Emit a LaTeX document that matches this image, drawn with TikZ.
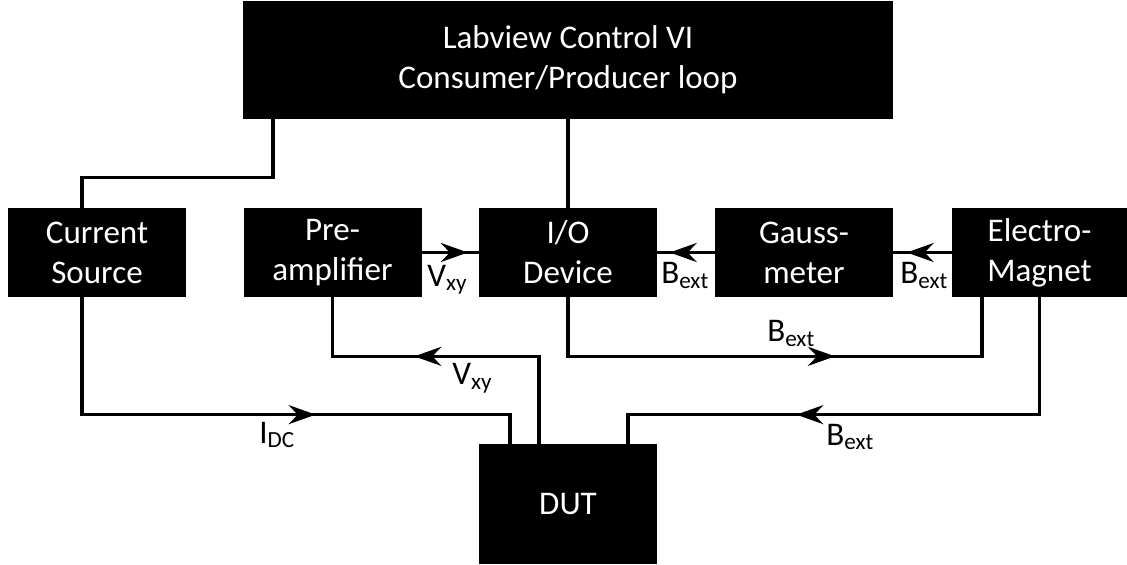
\documentclass[tikz,border=0pt]{standalone}
\usepackage{fontspec}
\setmainfont{Carlito}
\usetikzlibrary{positioning, arrows.meta, calc, decorations.markings}

\begin{document}
\begin{tikzpicture}[
        block/.style={fill=black, text=white, align=center, inner sep=0pt,
            minimum width=3.56cm, minimum height=1.78cm,
            font=\fontsize{18.8}{22.8}\selectfont},
        wire/.style={line width=1.9pt},
        flow/.style={postaction={decorate}, decoration={markings,
            mark=at position #1 with {\arrow{Stealth[length=0.54cm, width=0.38cm, inset=0.18cm]}}}},
        sig/.style={anchor=base west, inner sep=0pt,
            font=\fontsize{18.8}{22.8}\selectfont}
    ]

                \useasboundingbox (0, 0) rectangle (22.54, 11.28);

                \node[block, minimum width=13cm, minimum height=2.36cm]
                    (labview) at (11.36, 10.08) {Labview Control VI\\Consumer/Producer loop};

                \node[block] (current) at (1.94, 6.23) {Current\\Source};
                \node[block] (preamp) at (6.65, 6.23) {Pre-\\amplifier};
                \node[block] (io) at (11.36, 6.23) {I/O\\Device};
                \node[block] (gauss) at (16.08, 6.23) {Gauss-\\meter};
                \node[block, minimum width=3.5cm] (magnet) at (20.79, 6.23) {Electro-\\Magnet};

                \node[block, minimum height=2.4cm] (dut) at (11.36, 1.2) {DUT};

                \draw[wire] ([xshift=-5.9cm]labview.south)
                    |- ([xshift=-0.3cm, yshift=0.6cm]current.north)
                    -- ([xshift=-0.3cm]current.north);
                \draw[wire] (labview.south) -- (io.north);

                \draw[wire, flow=0.92cm] (preamp.east) -- (io.west);
                \draw[wire, flow=0.9cm] (gauss.west) -- (io.east);
                \draw[wire, flow=0.9cm] (magnet.west) -- (gauss.east);

                \draw[wire, flow=7.02cm] ([xshift=-0.3cm]current.south)
                    |- ([xshift=-1.16cm, yshift=0.58cm]dut.north)
                    -- ([xshift=-1.16cm]dut.north);
                \draw[wire, flow=4.24cm] ([xshift=-0.58cm]dut.north)
                    |- ([yshift=-1.18cm]preamp.south)
                    -- (preamp.south);
                \draw[wire, flow=6.52cm] (io.south)
                    |- ([xshift=-1.15cm, yshift=-1.18cm]magnet.south)
                    -- ([xshift=-1.15cm]magnet.south);
                \draw[wire, flow=7.21cm] (magnet.south)
                    |- ([xshift=1.2cm, yshift=0.58cm]dut.north)
                    -- ([xshift=1.2cm]dut.north);

                \node[sig] (vxyio) at (8.54, 5.56) {V\textsubscript{xy}};
                \node[sig] (bextio) at (13.22, 5.6) {B\textsubscript{ext}};
                \node[sig] (bextgauss) at (18.0, 5.6) {B\textsubscript{ext}};
                \node[sig] (idc) at (5.18, 2.42) {I\textsubscript{DC}};
                \node[sig] (vxydut) at (9.04, 3.58) {V\textsubscript{xy}};
                \node[sig] (bextmagnet) at (15.34, 4.44) {B\textsubscript{ext}};
                \node[sig] (bextdut) at (16.52, 2.38) {B\textsubscript{ext}};

            \end{tikzpicture}
\end{document}
